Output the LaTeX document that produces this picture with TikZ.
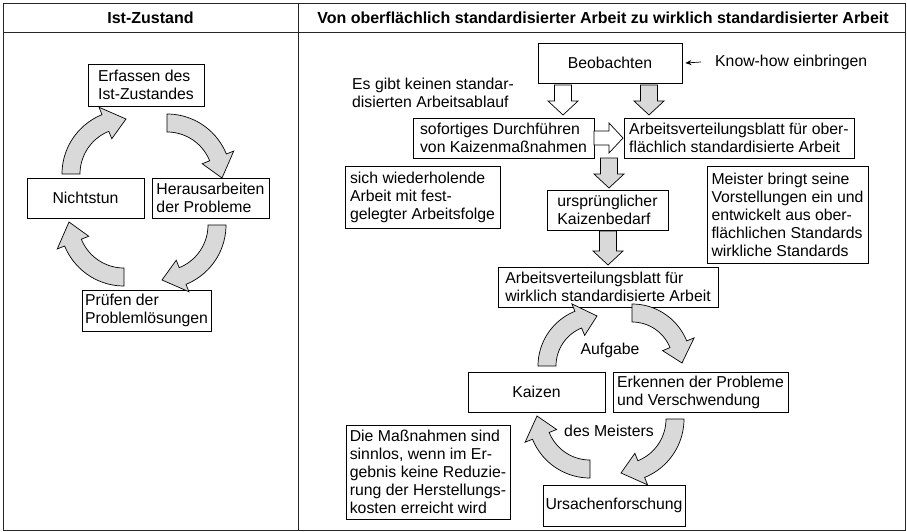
\documentclass[tikz,border=0pt]{standalone}
\usepackage{fontspec}
\setmainfont{Liberation Sans}
\usetikzlibrary{arrows.meta}
\newcommand\blkdown[4]{%
  \draw[#1] ({#2-8.5},#3) -- ({#2+8.5},#3) -- ({#2+8.5},{#4-14}) -- ({#2+15},{#4-14}) -- (#2,#4) -- ({#2-15},{#4-14}) -- ({#2-8.5},{#4-14}) -- cycle;}
\newcommand\curvarrow[5]{%
  \pgfmathsetmacro\hAng{#5-22}%
  \draw[blkgray] plot[domain=#4:\hAng, samples=30, variable=\t] ({#1+(#3+9)*cos(\t)},{#2+(#3+9)*sin(\t)})
    -- ({#1+(#3+17)*cos(\hAng)},{#2+(#3+17)*sin(\hAng)})
    -- ({#1+#3*cos(#5)},{#2+#3*sin(#5)})
    -- ({#1+(#3-17)*cos(\hAng)},{#2+(#3-17)*sin(\hAng)})
    -- ({#1+(#3-9)*cos(\hAng)},{#2+(#3-9)*sin(\hAng)})
    -- plot[domain=\hAng:#4, samples=30, variable=\t] ({#1+(#3-9)*cos(\t)},{#2+(#3-9)*sin(\t)})
    -- cycle;}
\begin{document}
\begin{tikzpicture}[x=1pt,y=-1pt,
  box/.style={draw, line width=0.8pt, fill=white, align=left, inner sep=0pt, font=\fontsize{15.8}{18}\selectfont},
  lbl/.style={inner sep=0pt, align=left, font=\fontsize{15.8}{18}\selectfont},
  hdr/.style={inner sep=0pt, font=\fontsize{16}{18}\selectfont\bfseries},
  blkgray/.style={draw, line width=0.7pt, fill=black!15, line join=miter},
  blkwhite/.style={draw, line width=0.7pt, fill=white, line join=miter},
  frame/.style={line width=0.9pt, draw=black!85}]
\useasboundingbox (0,0) rectangle (907,532);
% frame
\draw[frame] (3,3) rectangle (905,530);
\draw[frame] (3,32) -- (905,32);
\draw[frame] (298,3) -- (298,530);
\node[hdr] (h1) at (150.5,17.5) {Ist-Zustand};
\node[hdr] (h2) at (603,17.5) {Von oberflächlich standardisierter Arbeit zu wirklich standardisierter Arbeit};
% left cycle
\node[box, minimum width=116pt, minimum height=42pt] (erf) at (146,85) {Erfassen des\\Ist-Zustandes};
\node[box, minimum width=117pt, minimum height=40pt] (nicht) at (85.5,198) {Nichtstun};
\node[box, minimum width=117pt, minimum height=40pt] (heraus) at (210.5,198) {Herausarbeiten\\der Probleme};
\node[box, minimum width=129pt, minimum height=41pt] (pruef) at (146.5,310.5) {Prüfen der\\Problemlösungen};
\curvarrow{126}{174}{55}{180}{270}
\curvarrow{167}{178}{55}{270}{360}
\curvarrow{162}{225}{55}{0}{90}
\curvarrow{124}{222}{55}{90}{180}
% right part
\node[box, minimum width=144pt, minimum height=40pt] (beob) at (610,63) {Beobachten};
\node[lbl, anchor=west] (kh) at (715,62) {Know-how einbringen};
\draw[line width=0.7pt, -{Stealth[length=6pt,width=5pt]}] ([xshift=-14pt]kh.west) -- ([xshift=3pt]beob.east);
\node[lbl, anchor=west] (esgibt) at (352,93) {Es gibt keinen standar-\\disierten Arbeitsablauf};
\node[box, minimum width=181pt, minimum height=40pt] (sofort) at (503.5,138) {sofortiges Durchführen\\von Kaizenmaßnahmen};
\node[box, minimum width=230pt, minimum height=40pt] (avb1) at (739,138) {Arbeitsverteilungsblatt für ober-\\flächlich standardisierte Arbeit};
\node[box, minimum width=121pt, minimum height=40pt] (urspr) at (607.5,210) {ursprünglicher\\Kaizenbedarf};
\node[box, minimum width=220pt, minimum height=40pt] (avb2) at (608,287) {Arbeitsverteilungsblatt für\\wirklich standardisierte Arbeit};
\node[box, minimum width=155pt, minimum height=62pt] (sich) at (422.5,197) {sich wiederholende\\Arbeit mit fest-\\gelegter Arbeitsfolge};
\node[box, minimum width=161pt, minimum height=97pt] (meister) at (787.5,214.5) {Meister bringt seine\\Vorstellungen ein und\\entwickelt aus ober-\\flächlichen Standards\\wirkliche Standards};
\blkdown{blkwhite}{563}{85}{115}
\blkdown{blkgray}{649}{85}{115}
\draw[blkwhite] (594,131) -- (609,131) -- (609,123) -- (623,138) -- (609,153) -- (609,145) -- (594,145) -- cycle;
\blkdown{blkgray}{609}{158}{188}
\blkdown{blkgray}{608}{231}{265}
% bottom cycle
\node[box, minimum width=137pt, minimum height=40pt] (kaizen) at (536.5,392) {Kaizen};
\node[box, minimum width=175pt, minimum height=40pt] (erk) at (700.5,392) {Erkennen der Probleme\\und Verschwendung};
\node[box, minimum width=142pt, minimum height=41pt] (ursach) at (614,505.5) {Ursachenforschung};
\node[box, minimum width=164pt, minimum height=94pt] (mass) at (428,472) {Die Maßnahmen sind\\sinnlos, wenn im Er-\\gebnis keine Reduzie-\\rung der Herstellungs-\\kosten erreicht wird};
\node[lbl] (aufg) at (610,350) {Aufgabe};
\node[lbl] (desm) at (609,431) {des Meisters};
\curvarrow{597}{366}{50}{180}{270}
\curvarrow{632}{363}{50}{270}{360}
\curvarrow{621}{419}{54}{0}{90}
\curvarrow{590}{416}{53}{90}{180}
\end{tikzpicture}
\end{document}
